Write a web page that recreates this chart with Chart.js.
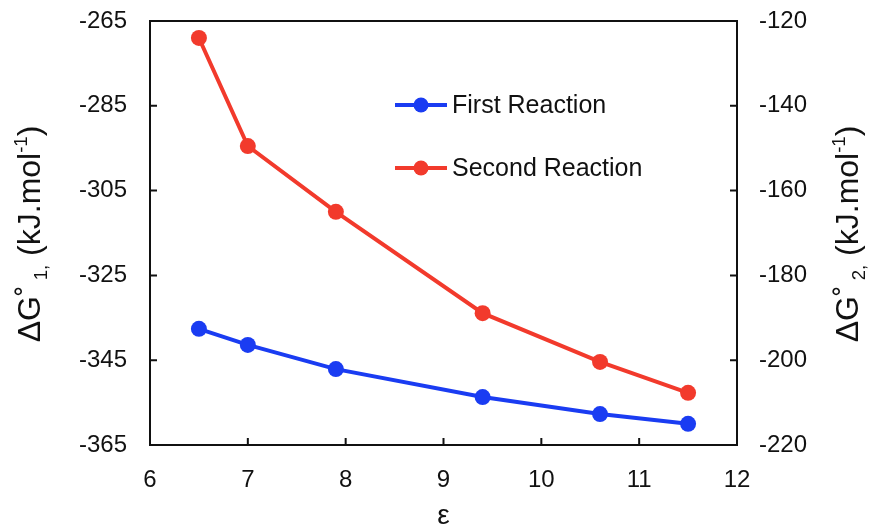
<!DOCTYPE html>
<html>
<head>
<meta charset="utf-8">
<script src="https://cdn.jsdelivr.net/npm/chart.js@4.4.0/dist/chart.umd.min.js"></script>
<style>
  html, body { margin: 0; padding: 0; background: #fff; }
  #wrap { width: 872px; height: 529px; }
</style>
</head>
<body>
<div id="wrap"><canvas id="chart" width="872" height="529"></canvas></div>
<script>
//Dados
const epsValues = [6.5, 7, 7.9, 9.4, 10.6, 11.5];
const firstReaction = [-337.6, -341.4, -347.1, -353.7, -357.7, -360.0];
const secondReaction = [-124.0, -149.5, -165.0, -188.9, -200.4, -207.7];
const seriesLabels = ['First Reaction', 'Second Reaction'];

const FONT = '"Liberation Sans", Arial, Helvetica, sans-serif';
const BLUE = '#1a3cf2';
const RED = '#f23a2c';

//Desenha texto rotacionado com sub/sobrescritos
function drawRichVertical(ctx, parts, cx, cy, size) {
  ctx.save();
  ctx.translate(cx, cy);
  ctx.rotate(-Math.PI / 2);
  ctx.fillStyle = '#111';
  ctx.textBaseline = 'alphabetic';
  let total = 0;
  parts.forEach(p => {
    ctx.font = `${size * p.s}px ${FONT}`;
    p.w = ctx.measureText(p.t).width;
    total += p.w;
  });
  let x = -total / 2;
  parts.forEach(p => {
    ctx.font = `${size * p.s}px ${FONT}`;
    ctx.fillText(p.t, x, size * 0.36 + p.dy * size);
    x += p.w;
  });
  ctx.restore();
}

function titleParts(idx) {
  return [
    { t: 'ΔG', s: 1, dy: 0 },
    { t: '˚', s: 1, dy: 0 },
    { t: ' ' + idx + ',', s: 0.58, dy: 0.22 },
    { t: ' (kJ.mol', s: 1, dy: 0 },
    { t: '-1', s: 0.58, dy: -0.38 },
    { t: ')', s: 1, dy: 0 }
  ];
}

//Plugin: moldura, ticks internos, títulos dos eixos e legenda
const framePlugin = {
  id: 'frame',
  afterDraw(chart) {
    const ctx = chart.ctx;
    const { left, right, top, bottom } = chart.chartArea;
    const tick = 7;

    ctx.save();
    ctx.strokeStyle = '#111';
    ctx.lineWidth = 2;

    //linha superior
    ctx.beginPath();
    ctx.moveTo(left, top);
    ctx.lineTo(right, top);
    ctx.stroke();

    //ticks internos
    ctx.beginPath();
    const sx = chart.scales.x;
    sx.ticks.forEach(t => {
      if (t.value <= sx.min || t.value >= sx.max) return;
      const px = sx.getPixelForValue(t.value);
      ctx.moveTo(px, bottom);
      ctx.lineTo(px, bottom - tick);
    });
    const sy = chart.scales.y;
    sy.ticks.forEach(t => {
      if (t.value <= sy.min || t.value >= sy.max) return;
      const py = sy.getPixelForValue(t.value);
      ctx.moveTo(left, py);
      ctx.lineTo(left + tick, py);
    });
    const sy2 = chart.scales.y2;
    sy2.ticks.forEach(t => {
      if (t.value <= sy2.min || t.value >= sy2.max) return;
      const py = sy2.getPixelForValue(t.value);
      ctx.moveTo(right, py);
      ctx.lineTo(right - tick, py);
    });
    ctx.stroke();
    ctx.restore();

    //títulos dos eixos
    drawRichVertical(ctx, titleParts(1), 28, 234, 32);
    drawRichVertical(ctx, titleParts(2), 846, 234, 32);

    ctx.save();
    ctx.fillStyle = '#111';
    ctx.font = `28px ${FONT}`;
    ctx.textAlign = 'center';
    ctx.textBaseline = 'middle';
    ctx.fillText('ε', (left + right) / 2, 516);
    ctx.restore();

    //legenda
    const colors = [BLUE, RED];
    const legendX = left + 245;
    const legendY = [top + 84, top + 147];
    ctx.save();
    seriesLabels.forEach((label, i) => {
      const y = legendY[i];
      ctx.strokeStyle = colors[i];
      ctx.lineWidth = 4;
      ctx.beginPath();
      ctx.moveTo(legendX, y);
      ctx.lineTo(legendX + 52, y);
      ctx.stroke();
      ctx.fillStyle = colors[i];
      ctx.beginPath();
      ctx.arc(legendX + 26, y, 7.5, 0, Math.PI * 2);
      ctx.fill();
      ctx.fillStyle = '#111';
      ctx.font = `25px ${FONT}`;
      ctx.textBaseline = 'middle';
      ctx.fillText(label, legendX + 57, y + 1);
    });
    ctx.restore();
  }
};

const axisFont = { family: FONT, size: 24 };

new Chart(document.getElementById('chart').getContext('2d'), {
  type: 'line',
  data: {
    datasets: [
      {
        label: seriesLabels[0],
        data: epsValues.map((x, i) => ({ x, y: firstReaction[i] })),
        yAxisID: 'y',
        borderColor: BLUE,
        backgroundColor: BLUE,
        borderWidth: 4,
        pointRadius: 8,
        pointBorderWidth: 0,
        tension: 0
      },
      {
        label: seriesLabels[1],
        data: epsValues.map((x, i) => ({ x, y: secondReaction[i] })),
        yAxisID: 'y2',
        borderColor: RED,
        backgroundColor: RED,
        borderWidth: 4,
        pointRadius: 8,
        pointBorderWidth: 0,
        tension: 0
      }
    ]
  },
  options: {
    responsive: false,
    animation: false,
    layout: { padding: { top: 21, left: 0, right: 0, bottom: 0 } },
    plugins: {
      legend: { display: false },
      tooltip: { enabled: false }
    },
    scales: {
      x: {
        type: 'linear',
        min: 6,
        max: 12,
        ticks: { stepSize: 1, color: '#111', font: axisFont, padding: 21, maxRotation: 0 },
        grid: { display: false, drawTicks: false },
        border: { display: true, color: '#111', width: 2 },
        afterFit(scale) {
          scale.height = 84;
          scale.paddingLeft = 0;
          scale.paddingRight = 0;
        }
      },
      y: {
        position: 'left',
        min: -365,
        max: -265,
        ticks: { stepSize: 20, color: '#111', font: axisFont, padding: 23 },
        grid: { display: false, drawTicks: false },
        border: { display: true, color: '#111', width: 2 },
        afterFit(scale) {
          scale.width = 150;
          scale.paddingTop = 0;
          scale.paddingBottom = 0;
        }
      },
      y2: {
        position: 'right',
        min: -220,
        max: -120,
        ticks: { stepSize: 20, color: '#111', font: axisFont, padding: 22 },
        grid: { display: false, drawTicks: false },
        border: { display: true, color: '#111', width: 2 },
        afterFit(scale) {
          scale.width = 135;
          scale.paddingTop = 0;
          scale.paddingBottom = 0;
        }
      }
    }
  },
  plugins: [framePlugin]
});
</script>
</body>
</html>
